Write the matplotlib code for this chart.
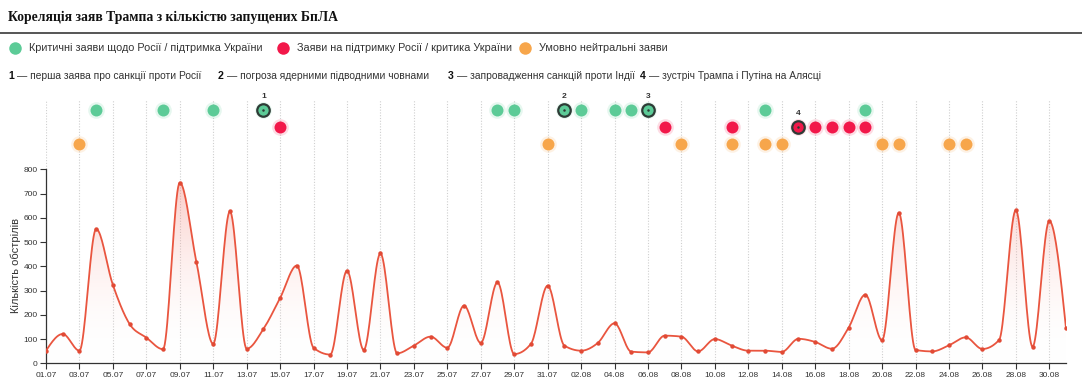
import numpy as np
import matplotlib.pyplot as plt
import pandas as pd
from matplotlib.colors import LinearSegmentedColormap

# data
dates = pd.date_range("2025-07-01", "2025-08-31", freq="D")
labels = [d.strftime("%d.%m") for d in dates]
values = [52, 121, 52, 554, 323, 162, 106, 58, 745, 416,
          80, 627, 60, 141, 269, 403, 64, 36, 382, 55,
          453, 41, 73, 110, 64, 238, 84, 334, 38, 80, 320,
          73, 52, 84, 165, 48, 45, 114, 110, 49, 100,
          73, 52, 52, 47, 101, 88, 60, 147, 283, 95,
          621, 55, 49, 74, 107, 59, 96, 632, 68, 587, 144]

green_days = ["04.07", "08.07", "11.07", "14.07", "28.07", "29.07", "01.08",
              "02.08", "04.08", "05.08", "06.08", "13.08", "19.08"]
red_days = ["15.07", "07.08", "11.08", "15.08", "16.08", "17.08", "18.08", "19.08"]
orange_days = ["03.07", "31.07", "08.08", "11.08", "13.08", "14.08",
               "20.08", "21.08", "24.08", "25.08"]
key_days = ["14.07", "01.08", "06.08", "15.08"]
key_rows = [0, 0, 0, 1]

cat_names = ["Критичні заяви щодо Росії / підтримка України",
             "Заяви на підтримку Росії / критика України",
             "Умовно нейтральні заяви"]
key_names = ["перша заява про санкції проти Росії",
             "погроза ядерними підводними човнами",
             "запровадження санкцій проти Індії",
             "зустріч Трампа і Путіна на Алясці"]

GREEN, RED, ORANGE = "#5ccb97", "#f2184a", "#f7a64b"
LINE = "#e9553f"
DARK = "#2e3b36"

plt.rcParams['font.family'] = ['Liberation Sans', 'DejaVu Sans']

W, H = 1082, 392
fig = plt.figure(figsize=(W / 100, H / 100), dpi=100)


def box(l, t, r, b):
    return [l / W, 1 - b / H, (r - l) / W, (b - t) / H]


def px(x, y):
    return x / W, 1 - y / H


# monotone cubic (d3 curveMonotoneX style) just for drawing
def monotone(x, y, n=20):
    x = np.asarray(x, float); y = np.asarray(y, float)
    h = np.diff(x); s = np.diff(y) / h
    t = np.zeros_like(y)
    for i in range(1, len(y) - 1):
        p = (s[i - 1] * h[i] + s[i] * h[i - 1]) / (h[i - 1] + h[i])
        t[i] = (np.sign(s[i - 1]) + np.sign(s[i])) * min(abs(s[i - 1]), abs(s[i]), 0.5 * abs(p))
    t[0] = (3 * s[0] - t[1]) / 2
    t[-1] = (3 * s[-1] - t[-2]) / 2
    xs, ys = [], []
    for i in range(len(h)):
        u = np.linspace(0, 1, n, endpoint=False)
        h00 = 2 * u**3 - 3 * u**2 + 1; h10 = u**3 - 2 * u**2 + u
        h01 = -2 * u**3 + 3 * u**2; h11 = u**3 - u**2
        xs.append(x[i] + u * h[i])
        ys.append(h00 * y[i] + h10 * h[i] * t[i] + h01 * y[i + 1] + h11 * h[i] * t[i + 1])
    xs.append([x[-1]]); ys.append([y[-1]])
    return np.concatenate(xs), np.concatenate(ys)


x = np.arange(len(values))
ymax_scale = 0.2425  # px per unit
top_val = (363.3 - 100) / ymax_scale

ax = fig.add_axes(box(46, 100, 1066, 363.3))
ax.set_xlim(0, len(values) - 1)
ax.set_ylim(0, top_val)

xs, ys = monotone(x, values)
grad = np.linspace(0, 1, 256).reshape(-1, 1)
cmap = LinearSegmentedColormap.from_list("g", [(1, 1, 1, 0), (0.95, 0.45, 0.40, 0.38)])
im = ax.imshow(grad, extent=[0, len(values) - 1, 0, 760], origin="lower",
               aspect="auto", cmap=cmap, zorder=1)
poly = ax.fill_between(xs, ys, 0, color="none", lw=0)
im.set_clip_path(poly.get_paths()[0], transform=ax.transData)
ax.plot(xs, ys, color=LINE, lw=1.3, zorder=3)
ax.plot(x, values, "o", color="#e14a35", ms=3.2, mec="none", zorder=4)
ax.set_xlim(0, len(values) - 1)
ax.set_ylim(0, top_val)

tick_idx = list(range(0, len(values), 2))
ax.set_xticks(tick_idx)
ax.set_xticklabels([labels[i] for i in tick_idx])
ax.set_yticks(range(0, 801, 100))
for i in tick_idx[1:]:
    ax.axvline(i, color="#cfcfcf", lw=0.8, ls=(0, (1, 1.5)), zorder=0)
ax.vlines(0, 800, top_val, color="#cfcfcf", lw=0.8, ls=(0, (1, 1.5)), zorder=0)
for sp in ["top", "right"]:
    ax.spines[sp].set_visible(False)
ax.spines["left"].set_bounds(0, 800)
for sp in ["left", "bottom"]:
    ax.spines[sp].set_color("#333333")
    ax.spines[sp].set_linewidth(0.9)
ax.tick_params(length=4, width=0.8, color="#333333", labelsize=6, labelcolor="#333333", pad=2)
ax.set_ylabel("Кількість обстрілів", fontsize=8, color="#333333")
ax.yaxis.set_label_coords(-0.0245, 0.37)

# statements rows
dx = fig.add_axes(box(46, 100, 1066, 154))
dx.set_xlim(0, len(values) - 1)
dx.set_ylim(2.588, -0.588)
dx.axis("off")
dx.patch.set_alpha(0)
for row, (days, col) in enumerate([(green_days, GREEN), (red_days, RED), (orange_days, ORANGE)]):
    pos = [labels.index(d) for d in days]
    dx.plot(pos, [row] * len(pos), "o", color=col, ms=12, alpha=0.15, mec="none", clip_on=False)
    dx.plot(pos, [row] * len(pos), "o", color=col, ms=8.6, mec="none", clip_on=False)
for k, (d, row) in enumerate(zip(key_days, key_rows)):
    p = labels.index(d)
    col = GREEN if row == 0 else RED
    dx.plot(p, row, "o", color=col, ms=9, mec=DARK, mew=1.6, clip_on=False, zorder=5)
    dx.plot(p, row, "o", color=DARK, ms=1.8, mec="none", clip_on=False, zorder=6)
    dx.annotate(str(k + 1), (p, row), xytext=(0, 7.5), textcoords="offset points",
                ha="center", va="bottom", fontsize=6, color="#333333", fontweight="bold")

# header
fig.text(*px(8, 17), "Кореляція заяв Трампа з кількістю запущених БпЛА",
         family=["Liberation Serif", "DejaVu Serif"], fontweight="bold",
         fontsize=9.8, color="#111111", va="center")
fig.add_artist(plt.Line2D([0, 1], [1 - 33 / H] * 2, color="#555555", lw=1.4))

leg_x = [15, 283, 525]
for cx, col, name in zip(leg_x, [GREEN, RED, ORANGE], cat_names):
    fig.add_artist(plt.Line2D([cx / W], [1 - 48 / H], marker="o", ms=9, color=col, mec="none"))
    fig.text(*px(cx + 14, 48), name, fontsize=7.8, color="#333333", va="center")

key_x = [8, 218, 448, 640]
for k, (kx, name) in enumerate(zip(key_x, key_names)):
    fig.text(*px(kx, 76), f"{k + 1}", fontsize=7.6, fontweight="bold", color="#111111", va="center")
    fig.text(*px(kx + 9, 76), f"— {name}", fontsize=7.4, color="#333333", va="center")

fig.savefig("out.png", dpi=100)
